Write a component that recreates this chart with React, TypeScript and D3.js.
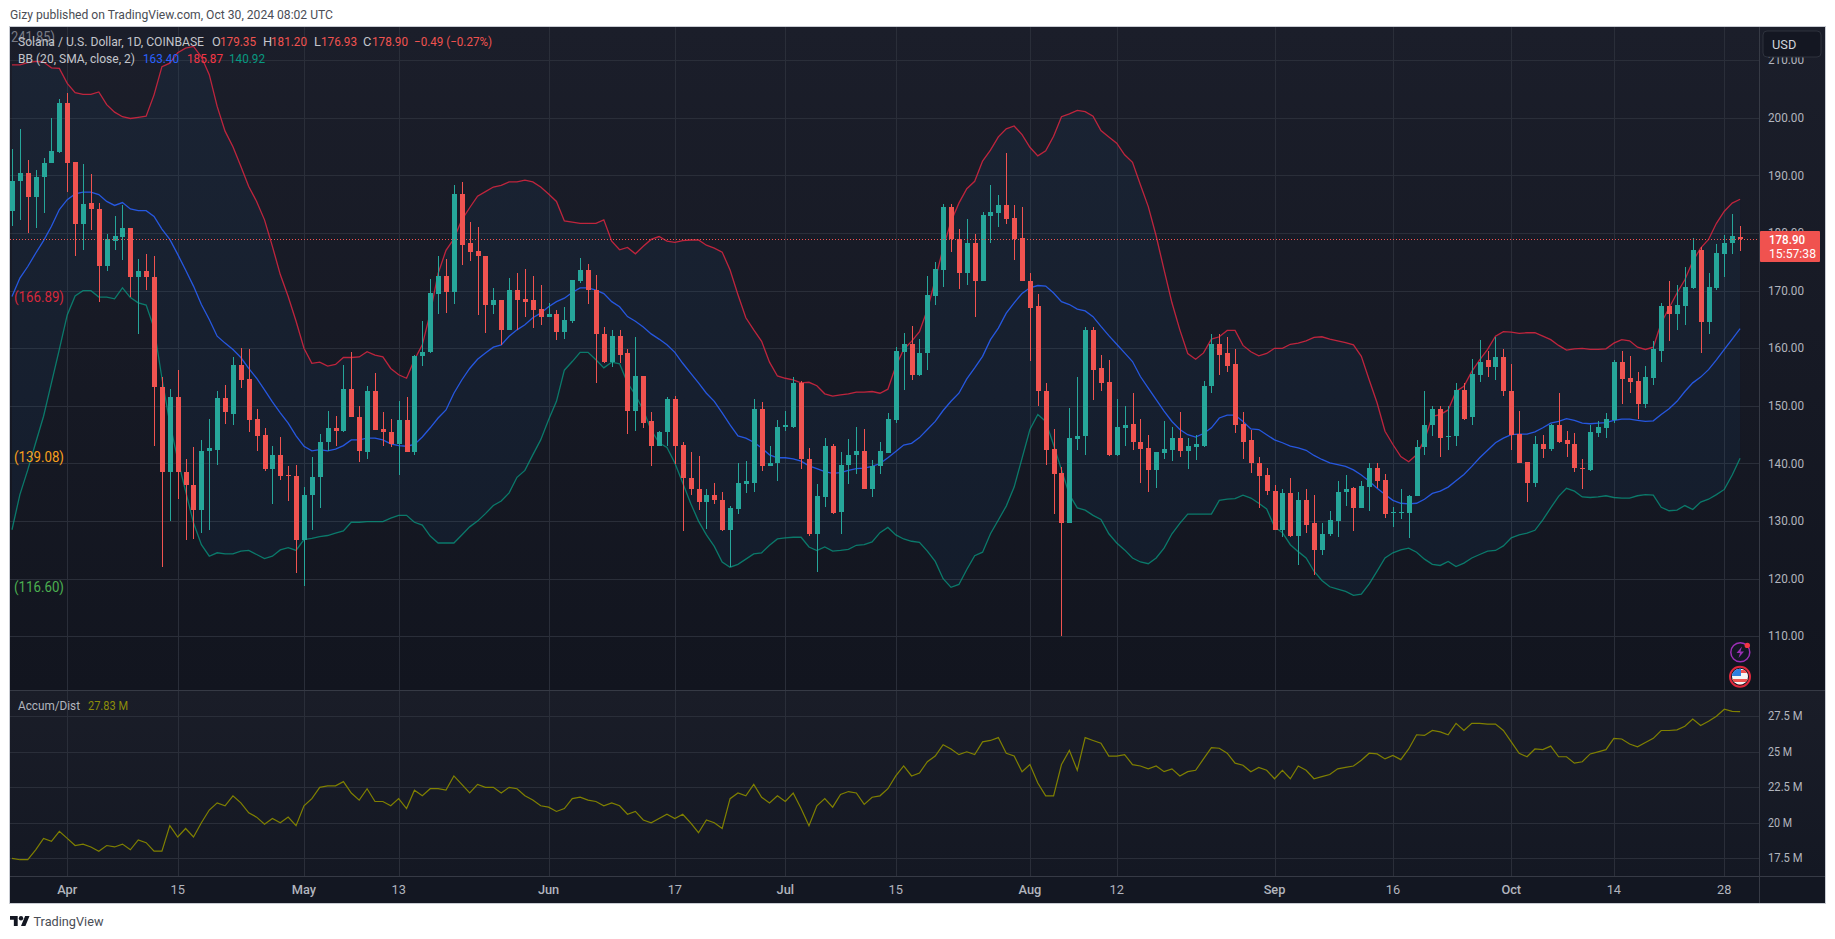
import React from "react";
import * as d3 from "d3";

const priceOpen = [
183.8,189.0,190.5,186.2,189.7,192.1,194.1,202.5,192.3,181.5,
185.3,184.2,174.3,178.7,179.4,180.8,172.3,173.5,172.4,153.3,
138.6,151.6,138.5,136.2,131.9,142.1,142.4,151.4,148.6,157.1,
154.7,147.8,145,139,141.4,138,137.9,126.7,134.5,137.6,
143.7,146.2,145.7,153,148.1,142,152.6,146,145.5,143.3,
147.6,142,158.7,159.3,169.5,172.6,169.8,186.8,178.2,176.9,
176.1,167.6,168.4,163.2,170.2,168.6,168.3,166.9,165.5,166,
162.9,164.8,171.7,173.6,170.2,162.5,157.6,162.2,159.1,149.2,
155.2,147.3,143,145.4,151.2,143.2,137.4,135.6,133.4,134.6,
133.7,128.5,132.1,136.5,136.7,149.5,139.6,140,146.4,146.4,
154,140.8,127.8,134.2,143.1,131.5,139.8,141.4,142.1,135.6,
139.5,141.9,147.6,159.4,160.8,155.4,159.1,169.1,173.6,184.6,
179,173,178.2,171.7,183,183.5,184.9,182.7,179.2,171.7,
167.4,152.6,142.6,138.4,129.7,144.3,144.7,163.2,156.5,154.2,
141.5,146.2,146.8,143.8,142.7,138.9,141.9,142.4,144.5,142.2,
142.8,143.1,153.4,160.8,159.1,157.2,146.9,144.1,140.1,138,
135.2,128.5,134.9,127.4,133.7,129.6,124.9,127.7,130.1,135,
135.8,132.3,136,139.3,137.2,131.5,131.5,131.4,134.3,142.8,
146.6,149.5,144.7,144.7,152.8,148,155.4,157.9,156.7,158.5,
152.6,145.2,140.3,136.7,143.3,142.6,146.6,144.1,143.4,139.3,
138.9,145.3,146.2,147.6,157.7,154.9,154.4,150.4,154.9,159.6,
167.4,166,167.4,170.5,177.1,164.5,170.5,176.4,178.2,179.35];

const priceClose = [
189.1,190.5,186.2,189.8,192.2,194.3,202.5,192.2,181.5,185.1,
184.1,174.3,178.9,179.5,180.8,172.3,173.5,172.3,153.2,138.5,
151.6,138.5,136.2,131.9,142.2,142.7,151.4,148.9,157.1,154.5,
147.6,144.8,139,141.4,137.9,137.8,126.7,134.6,137.7,143.8,
146.2,145.7,153,148,142.1,152.6,145.9,145.4,143.3,147.6,
142,158.7,159.4,169.6,172.6,169.8,186.8,178,176.8,176.1,
167.6,168.4,163.2,170.2,168.4,168.1,166.7,165.5,166,162.9,
165,171.9,173.6,170.1,162.4,157.6,162.2,158.9,149.2,155.2,
147.1,143,145.5,151.2,143.1,137.4,135.5,133.4,134.6,133.6,
128.5,132.3,136.7,136.9,149.5,139.6,140.1,146.4,146.6,153.9,
140.7,127.8,134.4,143.1,131.4,139.8,141.5,142.1,135.6,139.6,
142.1,147.8,159.6,160.8,155.4,159.2,169.3,173.8,184.6,178.9,
173,178.2,171.7,183.2,183.7,184.9,182.5,179,171.6,167,
152.5,142.4,138.2,129.7,144.5,144.8,163.2,156.3,154,141.5,
146.4,146.7,143.7,142.6,138.9,142,142.6,144.5,142.2,143,
143.3,153.5,160.8,158.9,157,146.7,143.8,140,137.9,135.3,
128.5,134.9,127.4,133.7,129.4,124.9,127.8,130.2,135,135.6,
132.3,136.1,139.3,137,131.3,131.6,131.6,134.4,142.9,146.7,
149.5,144.5,144.8,152.8,147.7,155.6,157.7,156.7,158.5,152.5,
145,140.1,136.7,143.3,142.6,146.6,143.8,143.3,139.2,139,
145.5,146.4,147.8,157.7,154.7,154.2,150.4,155.1,159.8,167.4,
166,167.6,170.7,177.1,164.5,170.7,176.6,178.3,179.5,178.9];

const priceHigh = [
194.65,198.1,192.7,191,193.1,200,203.2,204.3,192.3,192,
190.3,185.3,179.9,182.9,184.8,180.8,175.5,176.4,176.1,155,
153,156.3,140.8,142.9,144,147.7,152.6,153.7,158.5,160,
159.9,149.5,146.2,143,144.6,139.5,139.8,136,141.2,145.1,
149.2,148.2,157.1,159.3,150,153.5,155.7,149,147.7,150.9,
151.5,158.9,164.8,172,176,175.5,188.4,188.9,182,181,
176.1,170.5,168.4,172.2,173,173.8,172.6,171,167.9,166.7,
167.2,171.9,175.7,174.7,172.8,163.7,163.1,163.2,159.8,162,
155.2,149,145.7,151.5,151.8,143.8,142,141.3,135.5,136.7,
135.1,132.7,140,140.5,151.2,150.7,143,147.6,149.2,155,
154.4,142.7,136.5,144.4,143.4,142,144.3,146.4,146,140.6,
143.8,148.7,160.2,162.6,163.9,161.7,172.6,175,185.1,185,
180.7,182.5,179.9,183.7,188.4,186.7,193.9,184.8,184.5,173,
169.5,153.9,146,139.4,149.7,155.1,163.7,163.7,158.9,158,
151.2,150,152.2,147.7,145,142,147.3,146.4,149,144.5,
145,154.3,162.5,162.4,162,159.8,148.9,145.8,141.1,139.2,
136.3,135.6,137.5,135,135.6,134.6,129.6,131.8,137,138,
136,136.9,140.1,140,138.1,132.5,135.6,134.6,144.1,152.5,
150,149.9,149.9,154,154,158.1,161.5,159.6,161.9,159.9,
157.3,149.2,140.3,144.8,145,146.9,152.2,145.7,145.3,140.8,
146.6,147.4,148.8,158,159.6,158.6,155.8,156.9,161.2,167.9,
171.7,171,174.1,179.1,177.6,173.1,178.1,179.7,183.4,181.2];

const priceLow = [
181.2,182.2,180.1,180.8,183.5,192.2,193.9,187.1,176,177.1,
180.5,168.1,173.5,177,175.4,168.9,162.4,170.2,143.1,122,
130.1,133.8,126.7,126.9,128,128.5,139.8,146.9,146.7,153.1,
145.4,142.2,138.7,133,137.2,133.5,121,118.8,128.4,132.2,
142.1,143,145.5,148,140.2,140.7,145.9,143.1,142.8,138,
142,141.4,156.9,159.2,166,166.2,167.7,174.5,175.1,165.7,
162.7,166,160.6,163.2,163.2,165.5,163.6,164.1,165.4,161.4,
161.7,164.4,171.3,167.7,153.9,157.4,156.7,157.4,145.1,145.6,
146.2,139.6,143,143.1,139.9,128.2,134.6,132,128.7,133,
128.2,122.1,131.3,134.9,135.1,138.7,139.6,137,145.7,146.1,
139,127.4,121.1,132.5,131.3,127.8,136.5,138.1,135.6,134.1,
138.1,141.9,147,152.7,154.5,155.2,156.3,167.5,170.6,176.8,
170.3,171,165.5,171.7,178.2,181.1,181.6,175.4,171.6,157.8,
149.9,139.8,131.3,110.1,129.6,142.4,141.5,151,152.6,141.3,
141.3,143,142.4,136.7,135.1,135.7,140.7,140.5,141.2,139,
140.6,142.9,152.2,155.4,155.8,145.3,140.8,138.3,132.3,134.6,
128.5,127.2,127.2,122.4,128,120.7,124.1,127.4,127.2,132.7,
128.2,132.3,131.8,135.7,130.6,129,130.4,127.1,134.3,141.4,
144.7,141.2,142.3,143,147.5,146.6,154.1,155.1,154.5,151.8,
142.4,140.1,133.3,136,141,142.1,143.6,141.2,138.6,135.5,
138.7,144.6,144.5,147,150.4,152.3,147.8,149.6,153.7,157.7,
161.3,163.1,164.1,170.3,159.1,162.4,170.2,172.4,176.3,176.93];

const bbUpper = [
209.2,209.2,209.6,209.8,209.7,208.7,208.6,206,204.4,204.1,
204.1,204.5,202.3,201,200.2,199.9,200.1,200.3,204,208.9,
209.5,211.3,212.1,212.4,210.6,207.5,202,197.7,195,191.6,
188.1,185.5,182.3,177.7,172.8,169,164.7,160,157.4,157.6,
156.9,157.2,158.4,158.4,158.5,159.4,158.8,158.5,156.5,155.4,
154.8,158,160.6,166.1,173,177,179,182.3,184.4,186.4,
187.2,188,188.3,188.9,188.9,189.2,188.9,188,186.8,185.5,
182.1,181.9,181.7,181.7,181.7,182.3,178.6,177.1,177.5,176.4,
177.7,178.9,179.4,178.6,178.4,178.7,178.8,178.8,177.9,177.4,
176.7,173.6,169.3,165.3,163.2,161.2,157.6,155.2,154.8,154.5,
154,154.1,153.5,152.1,151.7,151.9,152.1,152.4,152.4,152.5,
152.2,152.9,156.9,159.8,161.2,162.9,166.7,171.9,177.4,182,
185.2,187.7,189,192.5,194.4,196.7,198.1,198.6,197.1,194.9,
193.4,194.3,196.8,200.2,200.7,201.3,201.1,200.3,197.8,196.7,
195.6,193.6,192.3,188.4,184.6,179.5,173.6,167.9,163.2,159.1,
158.1,159.2,161.6,162,163.1,163.1,160.5,159.4,158.7,159.1,
160,160,160.7,160.9,161.3,161.9,162,161.6,161.3,161,
160.6,158.6,154.5,150.5,145.6,143.3,141.2,140.3,141.5,144.1,
148.2,148.5,149.3,152.5,153.4,156,158,159.8,162.1,162.9,
162.8,162.6,162.7,162.7,162.1,161.5,160.5,159.7,159.9,160,
159.8,159.8,159.9,160.9,161.5,161.3,160.2,159.8,160.2,164.4,
167,169.6,171.9,175.1,177.4,178.9,181.7,183.8,185.2,185.87];

const bbBasis = [
169,172.2,174.2,176.5,178.7,181.2,184.1,185.8,186.8,187.1,
187.1,186.7,185.5,184.8,185.3,184.2,183.9,183.9,182.9,180.7,
178.9,176.3,173.6,170.8,167.6,165,162.1,160.9,159.8,158.4,
156.5,154.8,152.8,150.7,148.8,147,144.8,143,142.2,142.4,
142.2,142.5,143.1,144.1,144.1,144.4,144.4,144.1,143.4,143.1,
143,143.3,144.6,146.2,147.9,149.3,152.2,154.5,156.5,158.1,
159.2,160.2,160.6,162.1,163.2,164.1,165.3,166.1,167.2,168.1,
168.7,169.7,170.5,170.5,170.1,169.5,168.1,167.2,165.5,164.7,
163.7,162.5,161.6,160.6,159.3,157.4,155.7,154,152.2,150.8,
148.8,146.7,144.8,144.4,143.7,142.7,141.5,141,141,140.8,
140.4,139.6,139.1,138.6,138.3,138.4,138.8,139.1,139.2,139.5,
140,141,142.1,143.2,143.5,144.5,145.9,147.3,149.2,150.8,
152.2,154.7,156.6,158.6,161.5,163.5,166.1,167.9,169.5,170.5,
170.9,170.8,169.6,168.1,167.6,166.8,166.5,165.5,163.8,162.2,
160.7,159.2,157.7,155.1,153.1,151.1,149.1,147.3,145.9,145,
144.6,145.2,146.2,147.9,148.4,148.4,147.3,146,145.9,145,
144.1,143.6,143,142.7,142.3,141.4,140.7,140.1,139.8,139.5,
138.9,138,136.9,135.7,134.6,133.6,133.1,133,133.1,133.8,
134.8,135.2,135.9,137,138.1,139.5,141,142.3,143.6,144.4,
145,145.1,145.1,145.5,146.2,147,147.3,147.8,147.5,147,
146.9,147,147.1,147.5,147.7,147.7,147.5,147.3,147.4,148.5,
149.5,150.8,152.5,154,155,156.3,158,159.8,161.6,163.4];

const bbLower = [
128.5,134.6,138.9,143.6,148.2,154,159.8,165.8,169.1,170,
170,168.9,168.9,168.6,170.5,168.8,167.9,167.5,163.5,154.8,
147,140.7,135.2,129.7,125.9,123.9,124.5,124.3,124.3,124.8,
124.9,124.2,123.5,123.9,125,125.4,124.9,126.8,127,127.3,
127.5,127.9,128.3,129.8,129.8,129.9,129.9,129.9,130.5,131,
131,129.8,129.3,127.4,126.2,126.2,126.2,127.6,129,130,
131.3,132.7,133.5,134.9,137.6,138.8,141.5,144.1,147.6,150.8,
156.2,157.7,159.3,159.3,158,156.6,157.6,157.3,154,151.9,
149.3,145.8,143.6,142.8,140.1,136.6,133.1,130,127.6,125.6,
122.9,122,122.5,123.4,124.3,124.5,125.8,126.9,127.1,127.2,
127.2,125.5,124.9,125.5,124.8,124.9,125.1,125.8,125.9,126.4,
128,128.9,127.6,126.9,126.5,126.3,124.8,123,120,118.5,
119,121.6,124,124.6,127.8,130.2,132.6,135.9,140.9,145.9,
148.5,147.3,143.2,138.9,134.6,132.3,131.9,131,130.3,127.8,
126.2,125,123.6,122.9,122.6,123.6,125.3,127.8,129.6,131.2,
131.2,131.2,131.2,133.6,133.8,133.9,134.5,134,133.1,132.1,
129,128,125.9,124.7,123.6,121.3,119.7,118.6,118.2,117.8,
117.1,117.3,119.1,121.3,123.6,124.5,125,125.3,124.6,123.4,
122.5,122.3,123,122.1,122.7,123.6,124.2,124.8,124.9,125.7,
127.1,127.6,127.9,128.4,130.2,132.3,134.3,135.7,135.2,134.2,
134.1,134.2,134.4,134.1,134,134,134.4,134.6,134.5,132.4,
131.8,131.9,132.7,132,133.3,133.8,134.6,135.5,138,140.92];

const accumDist = [
17.5,17.4,17.4,18.1,18.9,18.7,19.4,18.9,18.4,18.5,
18.3,18,18.4,18.3,18.5,18.1,18.8,18.6,18,18,
19.8,19,19.6,19,20,20.9,21.4,21.2,21.9,21.4,
20.7,20.4,19.9,20.3,20,20.4,19.8,21.2,21.7,22.5,
22.6,22.6,22.9,22.1,21.6,22.4,21.5,21.5,21.2,21.7,
21,22.3,21.9,22.4,22.4,22.3,23.3,22.7,22.1,22.7,
22.5,22.5,22.1,22.5,22.4,21.9,21.6,21.2,21.1,20.8,
21,21.7,21.8,21.6,21.5,21.2,21.4,21.2,20.6,20.8,
20.2,20,20.3,20.6,20.3,20.6,20,19.3,20.2,20,
19.6,21.7,22.1,21.9,22.7,21.8,21.4,21.9,21.5,22.1,
21,19.8,21.2,21.7,21.1,22,22.2,22.1,21.3,21.8,
21.9,22.4,23.3,24,23.3,23.5,24.3,24.7,25.5,25.2,
24.8,25,24.8,25.7,25.8,26,24.9,24.7,23.6,24.1,
22.8,21.9,21.9,24.1,25.1,23.7,26,25.8,25.6,24.7,
24.7,24.8,24.1,24,23.8,24,23.6,23.8,23.3,23.6,
23.7,24.5,25.3,25.25,24.9,24.2,24.05,23.6,23.9,23.7,
23.1,23.7,23.1,24,23.7,23.1,23.25,23.4,23.8,23.9,
24,24.4,24.9,24.85,24.5,24.75,24.45,25.2,26.2,26.15,
26.5,26.4,26.2,27,26.5,27,27,26.95,26.95,26.5,
25.7,24.9,24.65,25.2,25.15,25.4,24.65,24.65,24.2,24.3,
24.85,25,25.15,25.95,25.9,25.55,25.35,25.65,25.95,26.5,
26.5,26.55,26.8,27.3,26.85,27.15,27.5,28,27.85,27.83];

const priceTicks = [110, 120, 130, 140, 150, 160, 170, 180, 190, 200, 210];
const adTicks = [17.5, 20, 22.5, 25, 27.5];
const adTickLabels = ["17.5 M", "20 M", "22.5 M", "25 M", "27.5 M"];
const timeTickIndex = [7, 21, 37, 49, 68, 84, 98, 112, 129, 140, 160, 175, 190, 203, 217];
const timeTickLabels = ["Apr", "15", "May", "13", "Jun", "17", "Jul", "15", "Aug", "12", "Sep", "16", "Oct", "14", "28"];
const monthLabels = ["Apr", "May", "Jun", "Jul", "Aug", "Sep", "Oct"];
const lastPrice = 178.9;

const UP = "#26a69a";
const DOWN = "#f05350";
const GRID = "#2a2e39";
const FONT = "Roboto, 'Noto Sans', sans-serif";

const x = d3.scaleLinear().domain([0, 219]).range([12.0, 1740.1]);
const y = d3.scaleLinear().domain([110, 210]).range([636.3, 60.3]);
const yAD = d3.scaleLinear().domain([17.5, 27.5]).range([858.3, 716.3]);

const lineOf = (vals: number[], sc: d3.ScaleLinear<number, number>) =>
  d3.line<number>().x((_, i) => x(i)).y((v) => sc(v))(vals) as string;
const bandArea = d3
  .area<number>()
  .x((_, i) => x(i))
  .y0((_, i) => y(bbLower[i]))
  .y1((v) => y(v))(bbUpper) as string;

function T({ w, children, ...rest }: any) {
  return (
    <text {...rest} textLength={w} lengthAdjust="spacingAndGlyphs">
      {children}
    </text>
  );
}

export default function App() {
  const n = priceOpen.length;
  const px = (i: number) => Math.round(x(i));
  return (
    <svg
      width={1835}
      height={939}
      viewBox="0 0 1835 939"
      style={{ position: "absolute", left: 0, top: 0, display: "block", background: "#fff" }}
      fontFamily={FONT}
    >
      <defs>
        <linearGradient id="pg1" x1="0" y1="0" x2="0" y2="1">
          <stop offset="0" stopColor="#1b1e2a" />
          <stop offset="1" stopColor="#12151f" />
        </linearGradient>
        <linearGradient id="pg2" x1="0" y1="0" x2="0" y2="1">
          <stop offset="0" stopColor="#1a1d28" />
          <stop offset="1" stopColor="#141823" />
        </linearGradient>
        <clipPath id="mainClip">
          <rect x={10} y={27} width={1749} height={663} />
        </clipPath>
        <clipPath id="adClip">
          <rect x={10} y={690} width={1749} height={186} />
        </clipPath>
        <clipPath id="flagClip">
          <circle cx={1740} cy={676.7} r={8} />
        </clipPath>
      </defs>

      <T x={10} y={19} fontSize={12.5} fill="#4a4d55" w={323}>
        Gizy published on TradingView.com, Oct 30, 2024 08:02 UTC
      </T>

      <rect x={10} y={27} width={1815} height={663} fill="url(#pg1)" />
      <rect x={10} y={690} width={1815} height={186} fill="url(#pg2)" />
      <rect x={10} y={876} width={1815} height={27} fill="#131722" />

      {/* grid */}
      <g shapeRendering="crispEdges" stroke={GRID} strokeWidth={1}>
        {priceTicks.map((t) => (
          <line key={t} x1={10} x2={1759} y1={Math.round(y(t)) + 0.5} y2={Math.round(y(t)) + 0.5} />
        ))}
        {adTicks.map((t) => (
          <line key={t} x1={10} x2={1759} y1={Math.round(yAD(t)) + 0.5} y2={Math.round(yAD(t)) + 0.5} />
        ))}
        {timeTickIndex.map((i) => (
          <line key={i} x1={px(i) + 0.5} x2={px(i) + 0.5} y1={27} y2={876} />
        ))}
      </g>
      <g shapeRendering="crispEdges" stroke="#363a45" strokeWidth={1}>
        <line x1={10} x2={1825} y1={690.5} y2={690.5} />
        <line x1={10} x2={1825} y1={876.5} y2={876.5} />
        <line x1={1759.5} x2={1759.5} y1={27} y2={903} />
      </g>

      {/* price pane */}
      <g clipPath="url(#mainClip)">
        <path d={bandArea} fill="#2196f3" fillOpacity={0.055} />
        <path d={lineOf(bbUpper, y)} fill="none" stroke="#d0263f" strokeWidth={1.3} strokeOpacity={0.9} />
        <path d={lineOf(bbBasis, y)} fill="none" stroke="#2962ff" strokeWidth={1.3} strokeOpacity={0.85} />
        <path d={lineOf(bbLower, y)} fill="none" stroke="#089981" strokeWidth={1.3} strokeOpacity={0.75} />
        <g shapeRendering="crispEdges">
          {d3.range(n).map((i) => {
            const up = priceClose[i] >= priceOpen[i];
            const c = up ? UP : DOWN;
            const top = Math.round(y(Math.max(priceOpen[i], priceClose[i])));
            const bot = Math.round(y(Math.min(priceOpen[i], priceClose[i])));
            const hi = Math.round(y(priceHigh[i]));
            const lo = Math.round(y(priceLow[i]));
            return (
              <g key={i} fill={c}>
                <rect x={px(i)} y={hi} width={1} height={Math.max(1, lo - hi)} />
                <rect x={px(i) - 2} y={top} width={5} height={Math.max(1, bot - top)} />
              </g>
            );
          })}
        </g>
        <line
          x1={10}
          x2={1759}
          y1={Math.round(y(lastPrice)) + 0.5}
          y2={Math.round(y(lastPrice)) + 0.5}
          stroke={DOWN}
          strokeDasharray="1 2"
          shapeRendering="crispEdges"
        />
      </g>

      {/* accumulation / distribution */}
      <g clipPath="url(#adClip)">
        <path d={lineOf(accumDist, yAD)} fill="none" stroke="#808000" strokeWidth={1.2} />
      </g>

      {/* indicator side labels */}
      <g fontSize={14.5}>
        <T x={11} y={42} fill="#787b86" w={44}>241.85)</T>
        <T x={14} y={302} fill="#d5283c" w={50}>(166.89)</T>
        <T x={14} y={462} fill="#f7a01d" w={50}>(139.08)</T>
        <T x={14} y={592} fill="#4caf50" w={50}>(116.60)</T>
      </g>

      {/* legend */}
      <g fontSize={12.8}>
        <T x={18} y={46} fill="#c3c5cb" w={186}>Solana / U.S. Dollar, 1D, COINBASE</T>
        <text x={212} y={46} fill="#c3c5cb">O</text>
        <T x={220} y={46} fill={DOWN} w={36}>179.35</T>
        <text x={263} y={46} fill="#c3c5cb">H</text>
        <T x={271} y={46} fill={DOWN} w={36}>181.20</T>
        <text x={314} y={46} fill="#c3c5cb">L</text>
        <T x={321} y={46} fill={DOWN} w={36}>176.93</T>
        <text x={363} y={46} fill="#c3c5cb">C</text>
        <T x={372} y={46} fill={DOWN} w={36}>178.90</T>
        <T x={414} y={46} fill={DOWN} w={78}>−0.49 (−0.27%)</T>
        <T x={18} y={63} fill="#c3c5cb" w={117}>BB (20, SMA, close, 2)</T>
        <T x={143} y={63} fill="#2962ff" w={36}>163.40</T>
        <T x={187} y={63} fill="#f23645" w={36}>185.87</T>
        <T x={229} y={63} fill="#089981" w={36}>140.92</T>
        <T x={18} y={710} fill="#b2b5be" w={62}>Accum/Dist</T>
        <T x={88} y={710} fill="#8c8c0a" w={40}>27.83 M</T>
      </g>

      {/* axes */}
      <g fontSize={12.8} fill="#b2b5be">
        {priceTicks.map((t) => (
          <T key={t} x={1768} y={y(t) + 4} w={36}>{t.toFixed(2)}</T>
        ))}
        {adTicks.map((t, k) => (
          <T key={t} x={1768} y={yAD(t) + 4} w={adTickLabels[k].length > 4 ? 34.5 : 24}>{adTickLabels[k]}</T>
        ))}
        {timeTickIndex.map((i, k) => (
          <text
            key={i}
            x={x(i)}
            y={894}
            textAnchor="middle"
            fontWeight={monthLabels.includes(timeTickLabels[k]) ? 500 : 400}
          >
            {timeTickLabels[k]}
          </text>
        ))}
      </g>

      {/* USD button */}
      <rect x={1763} y={31} width={58} height={26} rx={4} fill="#141722" stroke="#2e323d" />
      <text x={1772} y={49} fontSize={12.8} fill="#d1d4dc">USD</text>

      {/* last price tag */}
      <rect x={1760} y={231} width={60} height={31} rx={1} fill="#f0524f" />
      <T x={1769} y={244} fontSize={12.8} fontWeight={500} fill="#fff" w={36}>178.90</T>
      <T x={1769} y={258} fontSize={12} fill="#fff" w={47}>15:57:38</T>

      {/* event icons */}
      <circle cx={1740.3} cy={652.3} r={9.5} fill="#131722" stroke="#9c2fb5" strokeWidth={1.5} />
      <path d="M1742 646.5 L1736.5 653 L1740 653 L1738.5 658 L1744 651.5 L1740.5 651.5 Z" fill="#9c2fb5" />
      <circle cx={1747.3} cy={645.4} r={2.7} fill="#f23645" />
      <circle cx={1740} cy={676.7} r={10} fill="#131722" stroke="#e0283c" strokeWidth={2} />
      <g clipPath="url(#flagClip)">
        <rect x={1731} y={668} width={18} height={18} fill="#f5f5f5" />
        <rect x={1731} y={668} width={10} height={8} fill="#2f7fe0" />
        <rect x={1741} y={670} width={8} height={3} fill="#ef5350" />
        <rect x={1731} y={679} width={18} height={3} fill="#ef5350" />
        <rect x={1731} y={684} width={18} height={3} fill="#ef5350" />
      </g>

      {/* frame */}
      <rect x={9.5} y={26.5} width={1815.5} height={876.5} fill="none" stroke="#c9ccd3" strokeWidth={1} shapeRendering="crispEdges" />

      {/* footer */}
      <g transform="translate(10,913.8) scale(0.55)" fill="#131722">
        <path d="M14 22H7V11H0V4h14v18zM28 22h-8l7.5-18h8L28 22z" />
        <circle cx={20} cy={8} r={4} />
      </g>
      <T x={33.5} y={926} fontSize={13.5} fill="#4a4d55" w={70}>TradingView</T>
    </svg>
  );
}
